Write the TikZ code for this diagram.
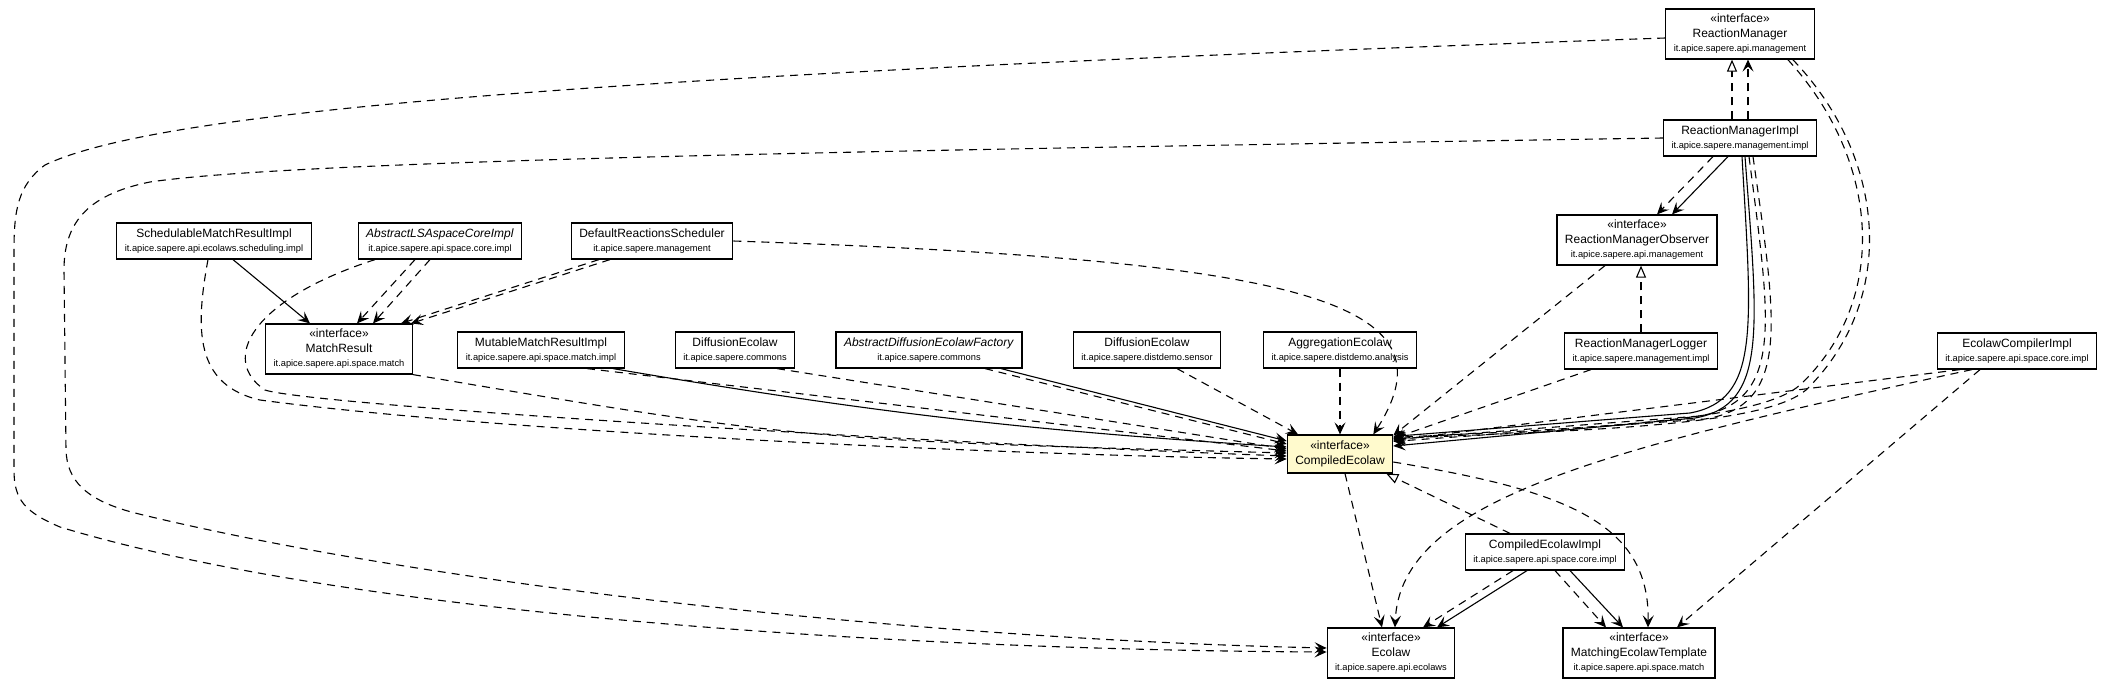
\documentclass[tikz,border=0pt]{standalone}
\usepackage{fontspec}
\setmainfont{Liberation Sans}
\usetikzlibrary{arrows.meta}
\definecolor{ifcyellow}{HTML}{FFFACD}
\newcommand{\pkgtext}[1]{{\fontsize{9.3}{11}\selectfont #1}}

\begin{document}
\begin{tikzpicture}[x=1pt, y=-1pt, line width=1.1pt, >={Stealth[length=12pt, width=11pt, inset=5pt]},
  every node/.style={draw, rectangle, line width=1.2pt, align=center, inner xsep=8pt, inner ysep=2pt, font=\fontsize{12}{14.5}\selectfont},
  cls/.style={minimum height=36pt},
  ifc/.style={minimum height=50pt},
  dep/.style={->, dash pattern=on 8pt off 6pt},
  use/.style={->},
  real/.style={-{Triangle[open, length=12pt, width=10pt, fill=white]}, dash pattern=on 8pt off 6pt}]
  \useasboundingbox (0,0) rectangle (2113,691);
  \node[ifc] (rm) at (1740,34) {«interface»\\ReactionManager\\\pkgtext{it.apice.sapere.api.management}};
  \node[cls] (rmi) at (1740,138) {ReactionManagerImpl\\\pkgtext{it.apice.sapere.management.impl}};
  \node[ifc] (rmo) at (1637,240) {«interface»\\ReactionManagerObserver\\\pkgtext{it.apice.sapere.api.management}};
  \node[cls] (rml) at (1641,351) {ReactionManagerLogger\\\pkgtext{it.apice.sapere.management.impl}};
  \node[cls] (eci) at (2017,351) {EcolawCompilerImpl\\\pkgtext{it.apice.sapere.api.space.core.impl}};
  \node[cls] (smr) at (214,241) {SchedulableMatchResultImpl\\\pkgtext{it.apice.sapere.api.ecolaws.scheduling.impl}};
  \node[cls] (alsa) at (440,241) {\textit{AbstractLSAspaceCoreImpl}\\\pkgtext{it.apice.sapere.api.space.core.impl}};
  \node[cls] (drs) at (652,241) {DefaultReactionsScheduler\\\pkgtext{it.apice.sapere.management}};
  \node[ifc] (mr) at (339,349) {«interface»\\MatchResult\\\pkgtext{it.apice.sapere.api.space.match}};
  \node[cls] (mmr) at (541,350) {MutableMatchResultImpl\\\pkgtext{it.apice.sapere.api.space.match.impl}};
  \node[cls] (dec) at (735,350) {DiffusionEcolaw\\\pkgtext{it.apice.sapere.commons}};
  \node[cls] (adef) at (929,350) {\textit{AbstractDiffusionEcolawFactory}\\\pkgtext{it.apice.sapere.commons}};
  \node[cls] (des) at (1147,350) {DiffusionEcolaw\\\pkgtext{it.apice.sapere.distdemo.sensor}};
  \node[cls] (agg) at (1340,350) {AggregationEcolaw\\\pkgtext{it.apice.sapere.distdemo.analysis}};
  \node[ifc, minimum height=38pt, fill=ifcyellow] (ce) at (1340,454) {«interface»\\CompiledEcolaw};
  \node[cls] (cei) at (1545,552) {CompiledEcolawImpl\\\pkgtext{it.apice.sapere.api.space.core.impl}};
  \node[ifc] (eco) at (1391,653) {«interface»\\Ecolaw\\\pkgtext{it.apice.sapere.api.ecolaws}};
  \node[ifc] (met) at (1639,653) {«interface»\\MatchingEcolawTemplate\\\pkgtext{it.apice.sapere.api.space.match}};
  % realizations
  \draw[real] ([xshift=-8pt]rmi.north) -- ([xshift=-8pt]rm.south);
  \draw[real] (rml.north) -- (rml.north |- rmo.south);
  \draw[real] ([xshift=-35pt]cei.north) -- ([xshift=-7pt]ce.south east);
  % manager side
  \draw[dep] ([xshift=8pt]rmi.north) -- ([xshift=8pt]rm.south);
  \draw[dep] ([xshift=-27pt]rmi.south) -- ([xshift=20pt]rmo.north);
  \draw[use] ([xshift=-12pt]rmi.south) -- ([xshift=35pt]rmo.north);
  \draw[dep] ([yshift=-4pt]rm.west) .. controls (600,75) and (160,110) .. (45,165) .. controls (18,185) and (14,210) .. (14,250) -- (14,470) .. controls (14,500) and (25,512) .. (60,527) .. controls (350,615) and (900,650) .. ([yshift=1pt]eco.west);
  \draw[dep] (rmi.west) .. controls (900,150) and (300,160) .. (150,182) .. controls (85,195) and (64,225) .. (64,270) -- (66,450) .. controls (67,480) and (85,500) .. (135,513) .. controls (450,590) and (950,640) .. ([yshift=5pt]eco.west);
  \draw[use] ([xshift=2pt]rmi.south) .. controls (1752,330) and (1760,400) .. (1690,413) -- ([yshift=-2pt]ce.north east);
  \draw[use] ([xshift=5pt]rmi.south) .. controls (1758,330) and (1768,405) .. (1695,418) -- ([yshift=8pt]ce.east);
  \draw[dep] ([xshift=9pt]rmi.south) .. controls (1770,320) and (1785,400) .. (1700,416) -- ([yshift=-5pt]ce.north east);
  \draw[dep] ([xshift=13pt]rmi.south) .. controls (1776,320) and (1792,405) .. (1705,419) -- ([yshift=-7pt]ce.north east);
  \draw[dep] ([xshift=-27pt]rm.south east) .. controls (1880,160) and (1890,300) .. (1800,385) .. controls (1760,420) and (1600,428) .. ([yshift=-3pt]ce.north east);
  \draw[dep] ([xshift=-22pt]rm.south east) .. controls (1887,158) and (1898,300) .. (1806,390) .. controls (1765,425) and (1600,430) .. ([yshift=-4pt]ce.north east);
  \draw[dep] ([xshift=-32pt]rmo.south) -- ([yshift=-1pt]ce.north east);
  \draw[dep] ([xshift=-50pt]rml.south) -- ([yshift=-4pt]ce.north east);
  \draw[dep] ([xshift=-57pt]eci.south) -- ([yshift=-6pt]ce.north east);
  \draw[dep] ([xshift=-45pt]eci.south) .. controls (1600,450) and (1400,500) .. ([xshift=4pt]eco.north);
  \draw[dep] ([xshift=-37pt]eci.south) -- ([xshift=38pt]met.north);
  % compiled ecolaw
  \draw[dep] ([xshift=-32pt]cei.south) -- ([xshift=32pt]eco.north);
  \draw[use] ([xshift=-18pt]cei.south) -- ([xshift=46pt]eco.north);
  \draw[dep] ([xshift=10pt]cei.south) -- ([xshift=-33pt]met.north);
  \draw[use] ([xshift=25pt]cei.south) -- ([xshift=-16pt]met.north);
  \draw[dep] ([xshift=5pt]ce.south) -- ([xshift=-9pt]eco.north);
  \draw[dep] ([yshift=-8pt]ce.east) .. controls (1560,490) and (1650,520) .. ([xshift=9pt]met.north);
  % match results and ecolaws
  \draw[use] ([xshift=19pt]smr.south) -- ([xshift=-29pt]mr.north);
  \draw[dep] ([xshift=-6pt]smr.south) .. controls (195,330) and (195,385) .. (260,400) .. controls (500,432) and (1000,455) .. ([yshift=-5pt]ce.west);
  \draw[dep] ([xshift=-25pt]alsa.south) -- ([xshift=18pt]mr.north);
  \draw[dep] ([xshift=-10pt]alsa.south) -- ([xshift=34pt]mr.north);
  \draw[dep] ([xshift=-65pt]alsa.south) .. controls (250,300) and (220,360) .. (265,390) .. controls (310,405) and (900,442) .. ([yshift=-2pt]ce.west);
  \draw[dep] ([xshift=-53pt]drs.south) -- ([xshift=-12pt]mr.north east);
  \draw[dep] ([xshift=-42pt]drs.south) -- ([xshift=-2pt]mr.north east);
  \draw[dep] (drs.east) .. controls (1300,260) and (1460,300) .. ([xshift=-20pt]ce.north east);
  \draw[dep] (mr.south east) .. controls (800,440) .. ([yshift=1pt]ce.west);
  \draw[dep] ([xshift=46pt]mmr.south) -- ([yshift=3pt]ce.west);
  \draw[use] ([xshift=72pt]mmr.south) to[bend right=3] ([yshift=7pt]ce.west);
  \draw[dep] ([xshift=42pt]dec.south) -- ([yshift=5pt]ce.west);
  \draw[dep] ([xshift=56pt]adef.south) -- ([yshift=10pt]ce.west);
  \draw[use] ([xshift=72pt]adef.south) -- ([yshift=13pt]ce.west);
  \draw[dep] ([xshift=30pt]des.south) -- ([xshift=-42pt]ce.north);
  \draw[dep] (agg.south) -- (ce.north);
\end{tikzpicture}
\end{document}
